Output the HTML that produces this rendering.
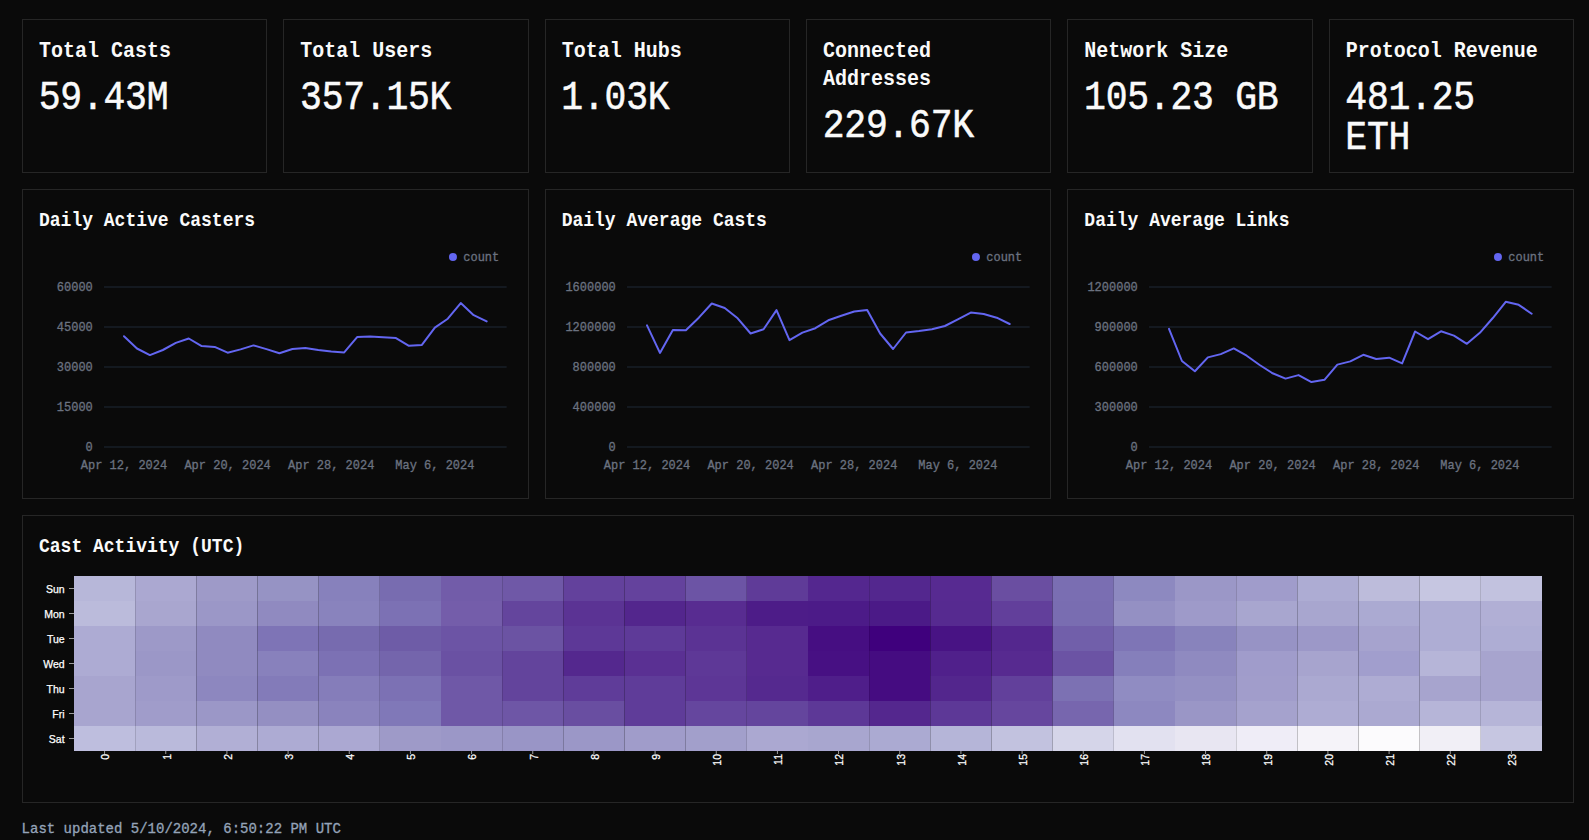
<!DOCTYPE html>
<html lang="en">
<head>
<meta charset="utf-8">
<title>Farcaster Network Stats</title>
<style>
html,body{margin:0;padding:0;background:#0a0a0a;}
body{width:1589px;height:840px;overflow:hidden;position:relative;color:#fff;
 font-family:"Liberation Mono",monospace;}
main{position:absolute;left:22px;top:19px;width:1552px;}
.row{display:grid;gap:16px;margin-bottom:16px;}
.r6{grid-template-columns:repeat(6,minmax(0,1fr));}
.r3{grid-template-columns:repeat(3,minmax(0,1fr));}
.card{box-sizing:border-box;border:1px solid #262626;padding:16px;position:relative;background:#0a0a0a;}
.stat{height:154px;}
.chart{height:310px;}
.heat{height:288px;}
h2{margin:0;font-weight:700;font-size:20px;line-height:28px;letter-spacing:0;position:relative;top:1.7px;color:#fafafa;}
h2 span{display:block;transform:scaleY(1.1);transform-origin:0 19.32px;}
h3{margin:0;font-weight:700;font-size:18px;line-height:28px;letter-spacing:0;position:relative;top:1.4px;color:#fafafa;white-space:nowrap;}
h3 span{display:block;transform:scaleY(1.1);transform-origin:0 18.79px;}
.num{margin:12px 0 0;font-size:36.4px;line-height:40px;letter-spacing:-.24px;font-weight:400;position:relative;top:3.6px;left:-.3px;color:#fafafa;-webkit-text-stroke:.5px #fafafa;}
.num span{display:block;transform:scaleY(1.1);transform-origin:0 29.69px;}
.card svg{position:absolute;left:0;top:0;overflow:visible;}
svg text{font-family:"Liberation Mono",monospace;}
.ax text{font-size:12px;fill:#6b7280;stroke:#6b7280;stroke-width:.3px;}
.hm text{font-family:"Liberation Sans",sans-serif;font-size:10.5px;fill:#fff;letter-spacing:0;stroke:#fff;stroke-width:.25px;}
footer{position:absolute;left:21.6px;top:819px;font-size:14px;line-height:20px;color:#94a3b8;white-space:nowrap;-webkit-text-stroke:.3px #94a3b8;}
footer span{display:block;transform:scaleY(1.1);transform-origin:0 14px;}
</style>
</head>
<body>
<main>
<section class="row r6">
<div class="card stat"><h2><span>Total Casts</span></h2><p class="num"><span>59.43M</span></p></div>
<div class="card stat"><h2><span>Total Users</span></h2><p class="num"><span>357.15K</span></p></div>
<div class="card stat"><h2><span>Total Hubs</span></h2><p class="num"><span>1.03K</span></p></div>
<div class="card stat"><h2><span>Connected</span><span>Addresses</span></h2><p class="num"><span>229.67K</span></p></div>
<div class="card stat"><h2><span>Network Size</span></h2><p class="num"><span>105.23 GB</span></p></div>
<div class="card stat"><h2><span>Protocol Revenue</span></h2><p class="num"><span>481.25</span><span>ETH</span></p></div>
</section>
<section class="row r3">
<div class="card chart"><h3><span>Daily Active Casters</span></h3>
<svg class="ax" width="504.67" height="308" viewBox="0 0 504.67 308">
<line x1="81" x2="483.67" y1="97" y2="97" stroke="#1f2937" stroke-width="1"/>
<line x1="81" x2="483.67" y1="137" y2="137" stroke="#1f2937" stroke-width="1"/>
<line x1="81" x2="483.67" y1="177" y2="177" stroke="#1f2937" stroke-width="1"/>
<line x1="81" x2="483.67" y1="217" y2="217" stroke="#1f2937" stroke-width="1"/>
<line x1="81" x2="483.67" y1="257" y2="257" stroke="#1f2937" stroke-width="1"/>
<text transform="translate(69.8 101.4) scale(1 1.1)" text-anchor="end">60000</text>
<text transform="translate(69.8 141.4) scale(1 1.1)" text-anchor="end">45000</text>
<text transform="translate(69.8 181.4) scale(1 1.1)" text-anchor="end">30000</text>
<text transform="translate(69.8 221.4) scale(1 1.1)" text-anchor="end">15000</text>
<text transform="translate(69.8 261.4) scale(1 1.1)" text-anchor="end">0</text>
<text transform="translate(101 279) scale(1 1.1)" text-anchor="middle">Apr 12, 2024</text>
<text transform="translate(204.62 279) scale(1 1.1)" text-anchor="middle">Apr 20, 2024</text>
<text transform="translate(308.24 279) scale(1 1.1)" text-anchor="middle">Apr 28, 2024</text>
<text transform="translate(411.86 279) scale(1 1.1)" text-anchor="middle">May 6, 2024</text>
<circle cx="429.97" cy="67" r="4" fill="#6366f1"/>
<text transform="translate(440.27 71.1) scale(1 1.1)">count</text>
<polyline fill="none" stroke="#6366f1" stroke-width="2" stroke-linejoin="round" stroke-linecap="round" points="101,146.2 113.95,158.5 126.9,165.1 139.86,160 152.81,152.9 165.76,148.5 178.71,156.1 191.67,156.9 204.62,162.7 217.57,159.4 230.52,155.4 243.48,159.1 256.43,163.2 269.38,159 282.33,157.9 295.29,160 308.24,161.4 321.19,162.4 334.14,147.1 347.1,146.4 360.05,147.2 373,148.1 385.95,155.8 398.9,154.9 411.86,137.6 424.81,128.7 437.76,113.1 450.71,125.2 463.67,131.4"/>
</svg>
</div>
<div class="card chart"><h3><span>Daily Average Casts</span></h3>
<svg class="ax" width="504.67" height="308" viewBox="0 0 504.67 308">
<line x1="81" x2="483.67" y1="97" y2="97" stroke="#1f2937" stroke-width="1"/>
<line x1="81" x2="483.67" y1="137" y2="137" stroke="#1f2937" stroke-width="1"/>
<line x1="81" x2="483.67" y1="177" y2="177" stroke="#1f2937" stroke-width="1"/>
<line x1="81" x2="483.67" y1="217" y2="217" stroke="#1f2937" stroke-width="1"/>
<line x1="81" x2="483.67" y1="257" y2="257" stroke="#1f2937" stroke-width="1"/>
<text transform="translate(69.8 101.4) scale(1 1.1)" text-anchor="end">1600000</text>
<text transform="translate(69.8 141.4) scale(1 1.1)" text-anchor="end">1200000</text>
<text transform="translate(69.8 181.4) scale(1 1.1)" text-anchor="end">800000</text>
<text transform="translate(69.8 221.4) scale(1 1.1)" text-anchor="end">400000</text>
<text transform="translate(69.8 261.4) scale(1 1.1)" text-anchor="end">0</text>
<text transform="translate(101 279) scale(1 1.1)" text-anchor="middle">Apr 12, 2024</text>
<text transform="translate(204.62 279) scale(1 1.1)" text-anchor="middle">Apr 20, 2024</text>
<text transform="translate(308.24 279) scale(1 1.1)" text-anchor="middle">Apr 28, 2024</text>
<text transform="translate(411.86 279) scale(1 1.1)" text-anchor="middle">May 6, 2024</text>
<circle cx="429.97" cy="67" r="4" fill="#6366f1"/>
<text transform="translate(440.27 71.1) scale(1 1.1)">count</text>
<polyline fill="none" stroke="#6366f1" stroke-width="2" stroke-linejoin="round" stroke-linecap="round" points="101,135.3 113.95,162.9 126.9,140 139.86,140.2 152.81,127.7 165.76,113.5 178.71,118 191.67,128.3 204.62,143.5 217.57,139.2 230.52,120.1 243.48,150.1 256.43,142.6 269.38,138.2 282.33,130.3 295.29,125.7 308.24,121.5 321.19,119.9 334.14,143.5 347.1,159 360.05,142.5 373,141 385.95,139.2 398.9,136 411.86,129.4 424.81,122.6 437.76,124 450.71,127.7 463.67,134"/>
</svg>
</div>
<div class="card chart"><h3><span>Daily Average Links</span></h3>
<svg class="ax" width="504.67" height="308" viewBox="0 0 504.67 308">
<line x1="81" x2="483.67" y1="97" y2="97" stroke="#1f2937" stroke-width="1"/>
<line x1="81" x2="483.67" y1="137" y2="137" stroke="#1f2937" stroke-width="1"/>
<line x1="81" x2="483.67" y1="177" y2="177" stroke="#1f2937" stroke-width="1"/>
<line x1="81" x2="483.67" y1="217" y2="217" stroke="#1f2937" stroke-width="1"/>
<line x1="81" x2="483.67" y1="257" y2="257" stroke="#1f2937" stroke-width="1"/>
<text transform="translate(69.8 101.4) scale(1 1.1)" text-anchor="end">1200000</text>
<text transform="translate(69.8 141.4) scale(1 1.1)" text-anchor="end">900000</text>
<text transform="translate(69.8 181.4) scale(1 1.1)" text-anchor="end">600000</text>
<text transform="translate(69.8 221.4) scale(1 1.1)" text-anchor="end">300000</text>
<text transform="translate(69.8 261.4) scale(1 1.1)" text-anchor="end">0</text>
<text transform="translate(101 279) scale(1 1.1)" text-anchor="middle">Apr 12, 2024</text>
<text transform="translate(204.62 279) scale(1 1.1)" text-anchor="middle">Apr 20, 2024</text>
<text transform="translate(308.24 279) scale(1 1.1)" text-anchor="middle">Apr 28, 2024</text>
<text transform="translate(411.86 279) scale(1 1.1)" text-anchor="middle">May 6, 2024</text>
<circle cx="429.97" cy="67" r="4" fill="#6366f1"/>
<text transform="translate(440.27 71.1) scale(1 1.1)">count</text>
<polyline fill="none" stroke="#6366f1" stroke-width="2" stroke-linejoin="round" stroke-linecap="round" points="101,138.9 113.95,171 126.9,181.3 139.86,167.4 152.81,164.1 165.76,158.4 178.71,165.7 191.67,175 204.62,183.3 217.57,188.6 230.52,185.1 243.48,192.1 256.43,189.8 269.38,174.6 282.33,171.4 295.29,164.8 308.24,169 321.19,167.7 334.14,173.4 347.1,141.5 360.05,149.2 373,141.3 385.95,145.6 398.9,153.8 411.86,142.8 424.81,128 437.76,111.8 450.71,114.8 463.67,123.7"/>
</svg>
</div>
</section>
<section class="row" style="margin-bottom:0"><div class="card heat"><h3><span>Cast Activity (UTC)</span></h3>
<svg class="hm" width="1550" height="286" viewBox="0 0 1550 286">
<g>
<rect x="51" y="60" width="61.17" height="25" fill="rgb(183,183,217)"/>
<rect x="112.17" y="60" width="61.17" height="25" fill="rgb(171,168,209)"/>
<rect x="173.33" y="60" width="61.17" height="25" fill="rgb(158,154,200)"/>
<rect x="234.5" y="60" width="61.17" height="25" fill="rgb(150,147,196)"/>
<rect x="295.67" y="60" width="61.17" height="25" fill="rgb(135,129,188)"/>
<rect x="356.83" y="60" width="61.17" height="25" fill="rgb(120,108,176)"/>
<rect x="418" y="60" width="61.17" height="25" fill="rgb(114,92,169)"/>
<rect x="479.17" y="60" width="61.17" height="25" fill="rgb(111,88,167)"/>
<rect x="540.33" y="60" width="61.17" height="25" fill="rgb(99,65,156)"/>
<rect x="601.5" y="60" width="61.17" height="25" fill="rgb(100,66,157)"/>
<rect x="662.67" y="60" width="61.17" height="25" fill="rgb(108,84,165)"/>
<rect x="723.83" y="60" width="61.17" height="25" fill="rgb(95,59,152)"/>
<rect x="785" y="60" width="61.17" height="25" fill="rgb(84,39,143)"/>
<rect x="846.17" y="60" width="61.17" height="25" fill="rgb(83,39,142)"/>
<rect x="907.33" y="60" width="61.17" height="25" fill="rgb(87,42,145)"/>
<rect x="968.5" y="60" width="61.17" height="25" fill="rgb(106,78,161)"/>
<rect x="1029.67" y="60" width="61.17" height="25" fill="rgb(122,110,178)"/>
<rect x="1090.83" y="60" width="61.17" height="25" fill="rgb(141,137,192)"/>
<rect x="1152" y="60" width="61.17" height="25" fill="rgb(155,151,199)"/>
<rect x="1213.17" y="60" width="61.17" height="25" fill="rgb(160,156,203)"/>
<rect x="1274.33" y="60" width="61.17" height="25" fill="rgb(173,172,211)"/>
<rect x="1335.5" y="60" width="61.17" height="25" fill="rgb(189,188,219)"/>
<rect x="1396.67" y="60" width="61.17" height="25" fill="rgb(198,198,225)"/>
<rect x="1457.83" y="60" width="61.17" height="25" fill="rgb(194,194,223)"/>
<rect x="51" y="85" width="61.17" height="25" fill="rgb(187,187,219)"/>
<rect x="112.17" y="85" width="61.17" height="25" fill="rgb(169,166,207)"/>
<rect x="173.33" y="85" width="61.17" height="25" fill="rgb(155,151,199)"/>
<rect x="234.5" y="85" width="61.17" height="25" fill="rgb(144,138,192)"/>
<rect x="295.67" y="85" width="61.17" height="25" fill="rgb(137,131,189)"/>
<rect x="356.83" y="85" width="61.17" height="25" fill="rgb(124,113,180)"/>
<rect x="418" y="85" width="61.17" height="25" fill="rgb(116,93,170)"/>
<rect x="479.17" y="85" width="61.17" height="25" fill="rgb(100,69,157)"/>
<rect x="540.33" y="85" width="61.17" height="25" fill="rgb(91,51,148)"/>
<rect x="601.5" y="85" width="61.17" height="25" fill="rgb(83,38,141)"/>
<rect x="662.67" y="85" width="61.17" height="25" fill="rgb(88,44,145)"/>
<rect x="723.83" y="85" width="61.17" height="25" fill="rgb(77,28,136)"/>
<rect x="785" y="85" width="61.17" height="25" fill="rgb(76,27,136)"/>
<rect x="846.17" y="85" width="61.17" height="25" fill="rgb(75,26,135)"/>
<rect x="907.33" y="85" width="61.17" height="25" fill="rgb(86,42,144)"/>
<rect x="968.5" y="85" width="61.17" height="25" fill="rgb(98,63,155)"/>
<rect x="1029.67" y="85" width="61.17" height="25" fill="rgb(121,109,177)"/>
<rect x="1090.83" y="85" width="61.17" height="25" fill="rgb(148,144,195)"/>
<rect x="1152" y="85" width="61.17" height="25" fill="rgb(158,154,201)"/>
<rect x="1213.17" y="85" width="61.17" height="25" fill="rgb(168,166,207)"/>
<rect x="1274.33" y="85" width="61.17" height="25" fill="rgb(168,166,207)"/>
<rect x="1335.5" y="85" width="61.17" height="25" fill="rgb(171,170,210)"/>
<rect x="1396.67" y="85" width="61.17" height="25" fill="rgb(174,173,212)"/>
<rect x="1457.83" y="85" width="61.17" height="25" fill="rgb(177,175,213)"/>
<rect x="51" y="110" width="61.17" height="25" fill="rgb(173,171,211)"/>
<rect x="112.17" y="110" width="61.17" height="25" fill="rgb(157,153,200)"/>
<rect x="173.33" y="110" width="61.17" height="25" fill="rgb(144,138,192)"/>
<rect x="234.5" y="110" width="61.17" height="25" fill="rgb(126,116,182)"/>
<rect x="295.67" y="110" width="61.17" height="25" fill="rgb(119,107,175)"/>
<rect x="356.83" y="110" width="61.17" height="25" fill="rgb(110,92,167)"/>
<rect x="418" y="110" width="61.17" height="25" fill="rgb(108,84,165)"/>
<rect x="479.17" y="110" width="61.17" height="25" fill="rgb(107,83,163)"/>
<rect x="540.33" y="110" width="61.17" height="25" fill="rgb(93,56,151)"/>
<rect x="601.5" y="110" width="61.17" height="25" fill="rgb(94,58,152)"/>
<rect x="662.67" y="110" width="61.17" height="25" fill="rgb(91,51,148)"/>
<rect x="723.83" y="110" width="61.17" height="25" fill="rgb(87,42,144)"/>
<rect x="785" y="110" width="61.17" height="25" fill="rgb(70,14,130)"/>
<rect x="846.17" y="110" width="61.17" height="25" fill="rgb(63,0,125)"/>
<rect x="907.33" y="110" width="61.17" height="25" fill="rgb(72,19,132)"/>
<rect x="968.5" y="110" width="61.17" height="25" fill="rgb(84,39,142)"/>
<rect x="1029.67" y="110" width="61.17" height="25" fill="rgb(113,95,170)"/>
<rect x="1090.83" y="110" width="61.17" height="25" fill="rgb(126,117,182)"/>
<rect x="1152" y="110" width="61.17" height="25" fill="rgb(136,131,188)"/>
<rect x="1213.17" y="110" width="61.17" height="25" fill="rgb(151,147,197)"/>
<rect x="1274.33" y="110" width="61.17" height="25" fill="rgb(156,152,200)"/>
<rect x="1335.5" y="110" width="61.17" height="25" fill="rgb(166,163,206)"/>
<rect x="1396.67" y="110" width="61.17" height="25" fill="rgb(174,173,212)"/>
<rect x="1457.83" y="110" width="61.17" height="25" fill="rgb(174,173,212)"/>
<rect x="51" y="135" width="61.17" height="25" fill="rgb(173,171,211)"/>
<rect x="112.17" y="135" width="61.17" height="25" fill="rgb(155,151,199)"/>
<rect x="173.33" y="135" width="61.17" height="25" fill="rgb(144,138,192)"/>
<rect x="234.5" y="135" width="61.17" height="25" fill="rgb(136,129,188)"/>
<rect x="295.67" y="135" width="61.17" height="25" fill="rgb(124,113,180)"/>
<rect x="356.83" y="135" width="61.17" height="25" fill="rgb(116,101,172)"/>
<rect x="418" y="135" width="61.17" height="25" fill="rgb(106,81,163)"/>
<rect x="479.17" y="135" width="61.17" height="25" fill="rgb(99,68,156)"/>
<rect x="540.33" y="135" width="61.17" height="25" fill="rgb(84,40,142)"/>
<rect x="601.5" y="135" width="61.17" height="25" fill="rgb(90,48,147)"/>
<rect x="662.67" y="135" width="61.17" height="25" fill="rgb(94,56,151)"/>
<rect x="723.83" y="135" width="61.17" height="25" fill="rgb(87,42,144)"/>
<rect x="785" y="135" width="61.17" height="25" fill="rgb(71,16,131)"/>
<rect x="846.17" y="135" width="61.17" height="25" fill="rgb(69,12,129)"/>
<rect x="907.33" y="135" width="61.17" height="25" fill="rgb(80,32,139)"/>
<rect x="968.5" y="135" width="61.17" height="25" fill="rgb(87,42,144)"/>
<rect x="1029.67" y="135" width="61.17" height="25" fill="rgb(107,83,164)"/>
<rect x="1090.83" y="135" width="61.17" height="25" fill="rgb(133,127,187)"/>
<rect x="1152" y="135" width="61.17" height="25" fill="rgb(143,138,192)"/>
<rect x="1213.17" y="135" width="61.17" height="25" fill="rgb(160,156,203)"/>
<rect x="1274.33" y="135" width="61.17" height="25" fill="rgb(167,164,206)"/>
<rect x="1335.5" y="135" width="61.17" height="25" fill="rgb(161,158,205)"/>
<rect x="1396.67" y="135" width="61.17" height="25" fill="rgb(182,181,216)"/>
<rect x="1457.83" y="135" width="61.17" height="25" fill="rgb(167,164,206)"/>
<rect x="51" y="160" width="61.17" height="25" fill="rgb(168,165,207)"/>
<rect x="112.17" y="160" width="61.17" height="25" fill="rgb(158,154,201)"/>
<rect x="173.33" y="160" width="61.17" height="25" fill="rgb(141,135,191)"/>
<rect x="234.5" y="160" width="61.17" height="25" fill="rgb(131,123,185)"/>
<rect x="295.67" y="160" width="61.17" height="25" fill="rgb(133,125,186)"/>
<rect x="356.83" y="160" width="61.17" height="25" fill="rgb(124,113,180)"/>
<rect x="418" y="160" width="61.17" height="25" fill="rgb(111,88,167)"/>
<rect x="479.17" y="160" width="61.17" height="25" fill="rgb(99,68,156)"/>
<rect x="540.33" y="160" width="61.17" height="25" fill="rgb(95,60,153)"/>
<rect x="601.5" y="160" width="61.17" height="25" fill="rgb(95,60,153)"/>
<rect x="662.67" y="160" width="61.17" height="25" fill="rgb(93,54,150)"/>
<rect x="723.83" y="160" width="61.17" height="25" fill="rgb(85,41,143)"/>
<rect x="785" y="160" width="61.17" height="25" fill="rgb(79,30,138)"/>
<rect x="846.17" y="160" width="61.17" height="25" fill="rgb(69,12,129)"/>
<rect x="907.33" y="160" width="61.17" height="25" fill="rgb(83,38,141)"/>
<rect x="968.5" y="160" width="61.17" height="25" fill="rgb(98,64,155)"/>
<rect x="1029.67" y="160" width="61.17" height="25" fill="rgb(124,113,179)"/>
<rect x="1090.83" y="160" width="61.17" height="25" fill="rgb(144,140,194)"/>
<rect x="1152" y="160" width="61.17" height="25" fill="rgb(148,144,195)"/>
<rect x="1213.17" y="160" width="61.17" height="25" fill="rgb(161,157,203)"/>
<rect x="1274.33" y="160" width="61.17" height="25" fill="rgb(171,169,209)"/>
<rect x="1335.5" y="160" width="61.17" height="25" fill="rgb(174,172,211)"/>
<rect x="1396.67" y="160" width="61.17" height="25" fill="rgb(167,164,206)"/>
<rect x="1457.83" y="160" width="61.17" height="25" fill="rgb(167,164,206)"/>
<rect x="51" y="185" width="61.17" height="25" fill="rgb(168,165,207)"/>
<rect x="112.17" y="185" width="61.17" height="25" fill="rgb(160,156,202)"/>
<rect x="173.33" y="185" width="61.17" height="25" fill="rgb(155,151,199)"/>
<rect x="234.5" y="185" width="61.17" height="25" fill="rgb(148,143,194)"/>
<rect x="295.67" y="185" width="61.17" height="25" fill="rgb(138,131,189)"/>
<rect x="356.83" y="185" width="61.17" height="25" fill="rgb(128,120,184)"/>
<rect x="418" y="185" width="61.17" height="25" fill="rgb(111,88,167)"/>
<rect x="479.17" y="185" width="61.17" height="25" fill="rgb(110,86,166)"/>
<rect x="540.33" y="185" width="61.17" height="25" fill="rgb(105,78,161)"/>
<rect x="601.5" y="185" width="61.17" height="25" fill="rgb(95,60,153)"/>
<rect x="662.67" y="185" width="61.17" height="25" fill="rgb(101,70,158)"/>
<rect x="723.83" y="185" width="61.17" height="25" fill="rgb(100,69,157)"/>
<rect x="785" y="185" width="61.17" height="25" fill="rgb(93,56,151)"/>
<rect x="846.17" y="185" width="61.17" height="25" fill="rgb(84,39,142)"/>
<rect x="907.33" y="185" width="61.17" height="25" fill="rgb(93,56,151)"/>
<rect x="968.5" y="185" width="61.17" height="25" fill="rgb(102,70,158)"/>
<rect x="1029.67" y="185" width="61.17" height="25" fill="rgb(119,102,174)"/>
<rect x="1090.83" y="185" width="61.17" height="25" fill="rgb(141,136,192)"/>
<rect x="1152" y="185" width="61.17" height="25" fill="rgb(154,150,198)"/>
<rect x="1213.17" y="185" width="61.17" height="25" fill="rgb(165,162,205)"/>
<rect x="1274.33" y="185" width="61.17" height="25" fill="rgb(174,172,211)"/>
<rect x="1335.5" y="185" width="61.17" height="25" fill="rgb(171,169,209)"/>
<rect x="1396.67" y="185" width="61.17" height="25" fill="rgb(182,181,216)"/>
<rect x="1457.83" y="185" width="61.17" height="25" fill="rgb(182,181,216)"/>
<rect x="51" y="210" width="61.17" height="25" fill="rgb(190,190,222)"/>
<rect x="112.17" y="210" width="61.17" height="25" fill="rgb(186,186,219)"/>
<rect x="173.33" y="210" width="61.17" height="25" fill="rgb(177,175,213)"/>
<rect x="234.5" y="210" width="61.17" height="25" fill="rgb(173,171,211)"/>
<rect x="295.67" y="210" width="61.17" height="25" fill="rgb(171,168,210)"/>
<rect x="356.83" y="210" width="61.17" height="25" fill="rgb(158,154,200)"/>
<rect x="418" y="210" width="61.17" height="25" fill="rgb(155,151,199)"/>
<rect x="479.17" y="210" width="61.17" height="25" fill="rgb(153,149,198)"/>
<rect x="540.33" y="210" width="61.17" height="25" fill="rgb(155,151,199)"/>
<rect x="601.5" y="210" width="61.17" height="25" fill="rgb(160,156,202)"/>
<rect x="662.67" y="210" width="61.17" height="25" fill="rgb(162,159,203)"/>
<rect x="723.83" y="210" width="61.17" height="25" fill="rgb(171,168,209)"/>
<rect x="785" y="210" width="61.17" height="25" fill="rgb(168,166,207)"/>
<rect x="846.17" y="210" width="61.17" height="25" fill="rgb(171,170,210)"/>
<rect x="907.33" y="210" width="61.17" height="25" fill="rgb(181,181,216)"/>
<rect x="968.5" y="210" width="61.17" height="25" fill="rgb(194,194,223)"/>
<rect x="1029.67" y="210" width="61.17" height="25" fill="rgb(213,213,233)"/>
<rect x="1090.83" y="210" width="61.17" height="25" fill="rgb(226,225,240)"/>
<rect x="1152" y="210" width="61.17" height="25" fill="rgb(232,230,242)"/>
<rect x="1213.17" y="210" width="61.17" height="25" fill="rgb(239,237,247)"/>
<rect x="1274.33" y="210" width="61.17" height="25" fill="rgb(245,243,249)"/>
<rect x="1335.5" y="210" width="61.17" height="25" fill="rgb(252,251,253)"/>
<rect x="1396.67" y="210" width="61.17" height="25" fill="rgb(241,239,246)"/>
<rect x="1457.83" y="210" width="61.17" height="25" fill="rgb(198,198,225)"/>
</g>
<g stroke="#fff" stroke-opacity=".6" stroke-width="1">
<line x1="46" x2="51" y1="72.5" y2="72.5"/>
<line x1="46" x2="51" y1="97.5" y2="97.5"/>
<line x1="46" x2="51" y1="122.5" y2="122.5"/>
<line x1="46" x2="51" y1="147.5" y2="147.5"/>
<line x1="46" x2="51" y1="172.5" y2="172.5"/>
<line x1="46" x2="51" y1="197.5" y2="197.5"/>
<line x1="46" x2="51" y1="222.5" y2="222.5"/>
<line x1="81.58" x2="81.58" y1="235" y2="238"/>
<line x1="142.75" x2="142.75" y1="235" y2="238"/>
<line x1="203.92" x2="203.92" y1="235" y2="238"/>
<line x1="265.08" x2="265.08" y1="235" y2="238"/>
<line x1="326.25" x2="326.25" y1="235" y2="238"/>
<line x1="387.42" x2="387.42" y1="235" y2="238"/>
<line x1="448.58" x2="448.58" y1="235" y2="238"/>
<line x1="509.75" x2="509.75" y1="235" y2="238"/>
<line x1="570.92" x2="570.92" y1="235" y2="238"/>
<line x1="632.08" x2="632.08" y1="235" y2="238"/>
<line x1="693.25" x2="693.25" y1="235" y2="238"/>
<line x1="754.42" x2="754.42" y1="235" y2="238"/>
<line x1="815.58" x2="815.58" y1="235" y2="238"/>
<line x1="876.75" x2="876.75" y1="235" y2="238"/>
<line x1="937.92" x2="937.92" y1="235" y2="238"/>
<line x1="999.08" x2="999.08" y1="235" y2="238"/>
<line x1="1060.25" x2="1060.25" y1="235" y2="238"/>
<line x1="1121.42" x2="1121.42" y1="235" y2="238"/>
<line x1="1182.58" x2="1182.58" y1="235" y2="238"/>
<line x1="1243.75" x2="1243.75" y1="235" y2="238"/>
<line x1="1304.92" x2="1304.92" y1="235" y2="238"/>
<line x1="1366.08" x2="1366.08" y1="235" y2="238"/>
<line x1="1427.25" x2="1427.25" y1="235" y2="238"/>
<line x1="1488.42" x2="1488.42" y1="235" y2="238"/>
</g>
<g text-anchor="end">
<text x="41.6" y="76.7">Sun</text>
<text x="41.6" y="101.7">Mon</text>
<text x="41.6" y="126.7">Tue</text>
<text x="41.6" y="151.7">Wed</text>
<text x="41.6" y="176.7">Thu</text>
<text x="41.6" y="201.7">Fri</text>
<text x="41.6" y="226.7">Sat</text>
<text font-size="10.2" transform="translate(86.48,238) rotate(-90)">0</text>
<text font-size="10.2" transform="translate(147.65,238) rotate(-90)">1</text>
<text font-size="10.2" transform="translate(208.82,238) rotate(-90)">2</text>
<text font-size="10.2" transform="translate(269.98,238) rotate(-90)">3</text>
<text font-size="10.2" transform="translate(331.15,238) rotate(-90)">4</text>
<text font-size="10.2" transform="translate(392.32,238) rotate(-90)">5</text>
<text font-size="10.2" transform="translate(453.48,238) rotate(-90)">6</text>
<text font-size="10.2" transform="translate(514.65,238) rotate(-90)">7</text>
<text font-size="10.2" transform="translate(575.82,238) rotate(-90)">8</text>
<text font-size="10.2" transform="translate(636.98,238) rotate(-90)">9</text>
<text font-size="10.2" transform="translate(698.15,238) rotate(-90)">10</text>
<text font-size="10.2" transform="translate(759.32,238) rotate(-90)">11</text>
<text font-size="10.2" transform="translate(820.48,238) rotate(-90)">12</text>
<text font-size="10.2" transform="translate(881.65,238) rotate(-90)">13</text>
<text font-size="10.2" transform="translate(942.82,238) rotate(-90)">14</text>
<text font-size="10.2" transform="translate(1003.98,238) rotate(-90)">15</text>
<text font-size="10.2" transform="translate(1065.15,238) rotate(-90)">16</text>
<text font-size="10.2" transform="translate(1126.32,238) rotate(-90)">17</text>
<text font-size="10.2" transform="translate(1187.48,238) rotate(-90)">18</text>
<text font-size="10.2" transform="translate(1248.65,238) rotate(-90)">19</text>
<text font-size="10.2" transform="translate(1309.82,238) rotate(-90)">20</text>
<text font-size="10.2" transform="translate(1370.98,238) rotate(-90)">21</text>
<text font-size="10.2" transform="translate(1432.15,238) rotate(-90)">22</text>
<text font-size="10.2" transform="translate(1493.32,238) rotate(-90)">23</text>
</g>
</svg>
</div></section>
</main>
<footer><span>Last updated 5/10/2024, 6:50:22 PM UTC</span></footer>
</body>
</html>
